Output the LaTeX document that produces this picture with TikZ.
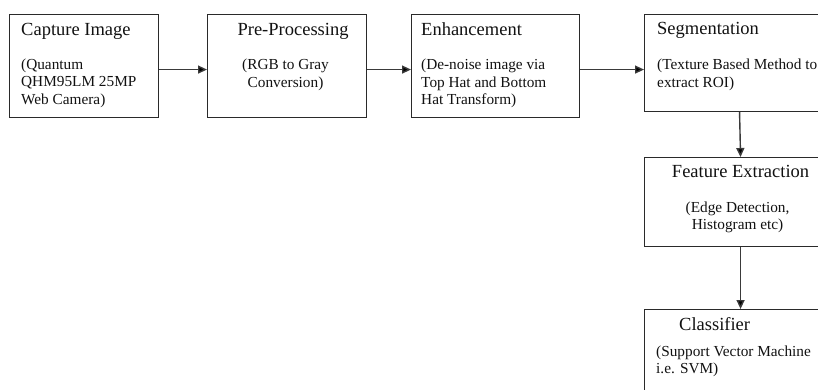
\documentclass[tikz,border=0pt]{standalone}
\usepackage{fontspec}
\setmainfont{Liberation Serif}
\usepackage{xcolor}
\usetikzlibrary{arrows.meta,positioning}
\definecolor{BoxLine}{HTML}{2A2A2A}
\definecolor{FlowGray}{HTML}{3A3A3A}
\definecolor{InkBlack}{HTML}{111111}

\newcommand{\stagelines}[2]{\begin{tabular}[t]{@{}#1@{}}#2\end{tabular}}

\tikzset{
  stage/.style={draw=BoxLine, line width=1.1pt, anchor=north west, inner sep=0pt},
  stagetitle/.style={anchor=base west, inner sep=0pt, text=InkBlack,
                     font=\fontsize{18.5}{21}\selectfont},
  stagenote/.style={anchor=base west, inner sep=0pt, text=InkBlack,
                    font=\fontsize{15.3}{17.5}\selectfont},
  flow/.style={draw=FlowGray, line width=1.4pt,
               -{Triangle[length=9pt,width=8pt,fill=black]}}
}

\begin{document}
\begin{tikzpicture}[x=1pt,y=-1pt]
  \useasboundingbox (0,0) rectangle (818,390);
  \clip (0,0) rectangle (818,390);

  % boxes
  \node[stage, minimum width=149pt, minimum height=103pt] (capture) at (9,14) {};
  \node[stage, minimum width=159pt, minimum height=103pt] (prep) at (207,14) {};
  \node[stage, minimum width=168pt, minimum height=103pt] (enhance) at (411,14) {};
  \node[stage, minimum width=192pt, minimum height=97pt] (segment) at (644,14) {};
  \node[stage, minimum width=192pt, minimum height=89pt] (feature) at (644,157) {};
  \node[stage, minimum width=192pt, minimum height=100pt] (classify) at (644,309) {};

  % texts
  \node[stagetitle] (captureT) at ([shift={(12,22)}]capture.north west) {Capture Image};
  \node[stagenote] (captureN) at ([shift={(12,55.5)}]capture.north west)
       {\stagelines{l}{(Quantum\\QHM95LM 25MP\\Web Camera)}};

  \node[stagetitle, anchor=base] (prepT) at ([shift={(6,22)}]prep.north) {Pre-Processing};
  \node[stagenote, anchor=base] (prepN) at ([shift={(-1.5,56)}]prep.north)
       {\stagelines{c}{(RGB to Gray\\Conversion)}};

  \node[stagetitle] (enhanceT) at ([shift={(10,22)}]enhance.north west) {Enhancement};
  \node[stagenote] (enhanceN) at ([shift={(10,56)}]enhance.north west)
       {\stagelines{l}{(De-noise image via\\Top Hat and Bottom\\Hat Transform)}};

  \node[stagetitle] (segmentT) at ([shift={(13,21)}]segment.north west) {Segmentation};
  \node[stagenote] (segmentN) at ([shift={(13,56)}]segment.north west)
       {\stagelines{l}{(Texture Based Method to\\extract ROI)}};

  \node[stagetitle, anchor=base] (featureT) at ([shift={(0,21)}]feature.north) {Feature Extraction};
  \node[stagenote, anchor=base] (featureN) at ([shift={(-3,55)}]feature.north)
       {\stagelines{c}{(Edge Detection,\\Histogram etc)}};

  \node[stagetitle] (classifyT) at ([shift={(35,21)}]classify.north west) {Classifier};
  \node[stagenote] (classifyN) at ([shift={(12,47)}]classify.north west)
       {\stagelines{l}{(Support Vector Machine\\i.e. SVM)}};

  % connectors
  \draw[flow] ([yshift=-3.5pt]capture.east) -- ([yshift=-3.5pt]prep.west);
  \draw[flow] ([yshift=-3.5pt]prep.east) -- ([yshift=-3.5pt]enhance.west);
  \draw[flow] ([yshift=-3.5pt]enhance.east) -- ([yshift=-3.5pt]enhance.east -| segment.west);
  \draw[flow] ([xshift=-1pt]segment.south) -- (feature.north);
  \draw[flow] (feature.south) -- (classify.north);
\end{tikzpicture}
\end{document}
